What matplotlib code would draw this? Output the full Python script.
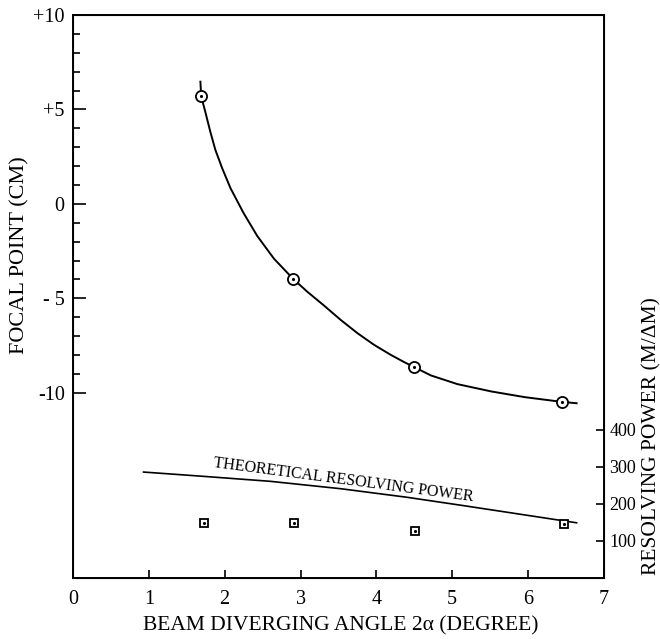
import matplotlib
matplotlib.use("Agg")
import matplotlib.pyplot as plt
from matplotlib.ticker import FixedLocator

plt.rcParams['font.family'] = ['Liberation Serif', 'DejaVu Serif']

# Focal point measurements (cm) vs beam diverging angle (degree)
angle_pts = [1.69, 2.906, 4.50, 6.45]
focal_pts = [5.7, -3.98, -8.64, -10.48]

# Hand-drawn fitted curve
curve_x = [1.68, 1.69, 1.746, 1.81, 1.878, 1.967, 2.077, 2.25, 2.43, 2.65, 2.906, 3.09, 3.31,
           3.53, 3.75, 3.97, 4.19, 4.37, 4.50, 4.72, 5.07, 5.52, 5.96, 6.45, 6.64]
curve_y = [6.47, 5.7, 4.85, 3.83, 2.85, 1.89, 0.83, -0.49, -1.70, -2.9, -3.98, -4.65, -5.38,
           -6.14, -6.84, -7.46, -7.99, -8.38, -8.64, -9.08, -9.54, -9.93, -10.23, -10.48, -10.55]

# Resolving power: measured (squares) and theoretical line
rp_x = [1.73, 2.91, 4.51, 6.47]
rp_y = [149, 149, 128, 146]
theo_x = [0.93, 1.68, 2.60, 3.53, 4.40, 5.16, 5.90, 6.64]
theo_y = [286, 275, 261, 241, 218, 195, 172, 149]

xticks = [0, 1, 2, 3, 4, 5, 6, 7]
lticks = [10, 5, 0, -5, -10]
lticklabels = ['+10', '+5', '0', '- 5', '-10']
rticks = [100, 200, 300, 400]

fig = plt.figure(figsize=(6.6, 6.39), dpi=100)
ax = fig.add_axes([0.1106, 0.0955, 0.8044, 0.881])
ax.set_xlim(0, 7)
ax.set_ylim(-19.8, 10)

ax.plot(curve_x, curve_y, color='black', lw=1.4)
ax.plot(angle_pts, focal_pts, 'o', ms=8, mfc='white', mec='black', mew=1.3)
ax.plot(angle_pts, focal_pts, '.', ms=2.5, color='black')

ax.set_xticks(xticks)
ax.set_xticklabels([str(v) for v in xticks])
ax.set_yticks(lticks)
ax.set_yticklabels(lticklabels)
ax.yaxis.set_minor_locator(FixedLocator([v for v in range(-9, 10) if v % 5 != 0]))
ax.tick_params(axis='x', direction='in', length=6, width=1.2, labelsize=14.5, pad=9)
ax.tick_params(axis='y', which='major', direction='in', length=9, width=1.2, labelsize=14.5, pad=6)
ax.tick_params(axis='y', which='minor', direction='in', length=5, width=1.2)
for s in ax.spines.values():
    s.set_linewidth(1.4)

ax2 = ax.twinx()
ax2.set_ylim(0, 1520)
ax2.plot(theo_x, theo_y, color='black', lw=1.2)
ax2.plot(rp_x, rp_y, 's', ms=5.5, mfc='white', mec='black', mew=1.3)
ax2.plot(rp_x, rp_y, '.', ms=2.5, color='black')
ax2.set_yticks(rticks)
ax2.set_yticklabels([str(v) for v in rticks])
ax2.tick_params(axis='y', direction='in', length=6, width=1.2, labelsize=13, pad=4)

ax2.text(1.85, 300, 'THEORETICAL RESOLVING POWER', rotation=-7.5, fontsize=11.5,
         ha='left', va='baseline', rotation_mode='anchor')

fig.text(0.517, 0.013, 'BEAM DIVERGING ANGLE 2α (DEGREE)', ha='center', va='baseline', fontsize=15.5)
fig.text(0.0295, 0.60, 'FOCAL POINT (CM)', rotation=90, ha='center', va='center', fontsize=16)
fig.text(0.9875, 0.318, 'RESOLVING POWER (M/ΔM)', rotation=90, ha='center', va='center', fontsize=15.5)

fig.savefig('out.png', dpi=100)
